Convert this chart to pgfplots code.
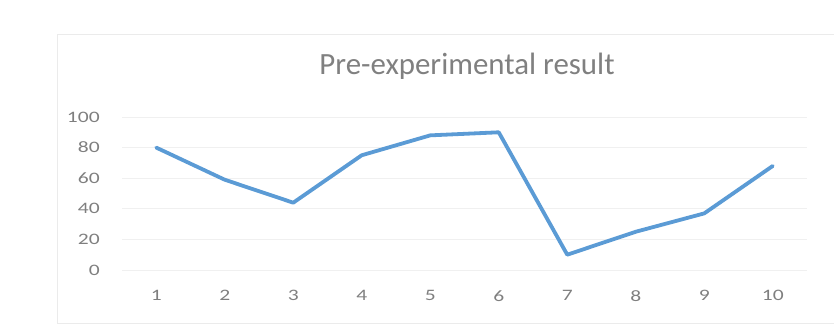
\documentclass[border=0pt]{standalone}
\usepackage{pgfplots}
\pgfplotsset{compat=1.18}
\usepackage{fontspec}
\setmainfont{Carlito}
\usetikzlibrary{calc}
\definecolor{linecol}{HTML}{5B9BD5}
\definecolor{txt}{HTML}{7F7F7F}
\definecolor{ttl}{HTML}{808080}
\definecolor{gridcol}{HTML}{F0F0F0}
\definecolor{frame}{HTML}{EBEBEB}
\begin{document}
\begin{tikzpicture}
\begin{axis}[
  name=ax, anchor=south west, at={(0,0)},
  scale only axis, width=685bp, height=153bp,
  xmin=0.5, xmax=10.5, ymin=0, ymax=100,
  xtick={1,...,10}, ytick={0,20,...,100},
  axis line style={draw=none}, tick style={draw=none},
  ymajorgrids, xmajorgrids=false, grid style={draw=gridcol, line width=0.8bp},
  ticklabel style={font=\fontsize{16}{16}\selectfont, text=txt, xscale=1.35},
  /pgf/number format/assume math mode=true,
  xticklabel style={yshift=-17bp},
  yticklabel style={xshift=-13bp},
  clip=false,
]
\addplot[linecol, line width=3.8bp, line join=round, line cap=round] coordinates {
  (1,80) (2,59) (3,44) (4,75) (5,88) (6,90) (7,10) (8,25) (9,37) (10,68)
};
\end{axis}
\path[use as bounding box] ($(ax.south west)+(-122bp,-64bp)$) rectangle ($(ax.south west)+(712bp,270bp)$);
\draw[frame, line width=0.8bp] ($(ax.south west)+(712bp,236bp)$) -- ($(ax.south west)+(-65bp,236bp)$) -- ($(ax.south west)+(-65bp,-53bp)$) -- ($(ax.south west)+(712bp,-53bp)$);
\node[text=ttl, font=\fontsize{31}{31}\selectfont] at ($(ax.south west)+(345bp,204bp)$) {Pre-experimental result};
\end{tikzpicture}
\end{document}
